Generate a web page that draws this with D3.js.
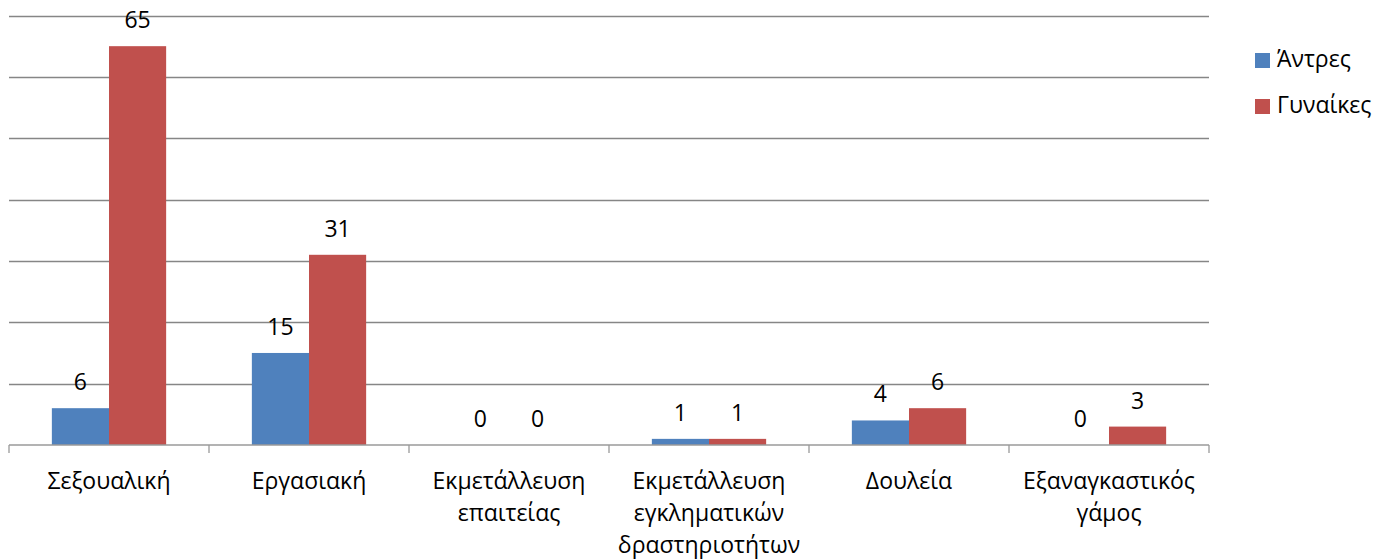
<!DOCTYPE html>
<html>
<head>
<meta charset="utf-8">
<script src="https://cdn.jsdelivr.net/npm/d3@7/dist/d3.min.js"></script>
<style>
html,body{margin:0;padding:0;background:#fff;}
svg{display:block;font-family:"Open Sans",sans-serif;}
</style>
</head>
<body>
<svg id="chart" width="1380" height="559"></svg>
<script>
const categories = [
  ["Σεξουαλική"],
  ["Εργασιακή"],
  ["Εκμετάλλευση", "επαιτείας"],
  ["Εκμετάλλευση", "εγκληματικών", "δραστηριοτήτων"],
  ["Δουλεία"],
  ["Εξαναγκαστικός", "γάμος"]
];
const seriesNames = ["Άντρες", "Γυναίκες"];
const men = [6, 15, 0, 1, 4, 0];
const women = [65, 31, 0, 1, 6, 3];
const colors = ["#4F81BD", "#C0504D"];
const yTicks = [0, 10, 20, 30, 40, 50, 60, 70];

const svg = d3.select("#chart");
const pLeft = 9, pRight = 1209, pTop = 15.5, pBottom = 445;
const fontSize = 23;

const x = d3.scaleBand().domain(d3.range(categories.length)).range([pLeft, pRight]).paddingInner(0).paddingOuter(0);
const bw = x.bandwidth();
const barW = bw / 3.5;
const y = d3.scaleLinear().domain([0, 70]).range([pBottom, pTop]);

// gridlines
svg.append("g").selectAll("line").data(yTicks.filter(d => d > 0)).join("line")
  .attr("x1", pLeft).attr("x2", pRight)
  .attr("y1", d => Math.round(y(d)) + 0.5).attr("y2", d => Math.round(y(d)) + 0.5)
  .attr("stroke", "#868686").attr("stroke-width", 1.3);

const data = [men, women];
// bars
data.forEach((vals, s) => {
  svg.append("g").selectAll("rect").data(vals).join("rect")
    .attr("x", (d, i) => x(i) + bw / 2 - barW + s * barW)
    .attr("y", d => y(d))
    .attr("width", barW)
    .attr("height", d => pBottom - y(d))
    .attr("fill", colors[s]);
});

// axis line + ticks
const xAxis = d3.axisBottom(x).tickSize(0).tickFormat("");
const ax = svg.append("g").attr("transform", `translate(0,${pBottom})`).call(xAxis);
ax.select(".domain").attr("stroke", "#9a9a9a").attr("stroke-width", 1.3).attr("d", `M${pLeft},0H${pRight}`);
svg.append("g").selectAll("line").data(d3.range(categories.length + 1)).join("line")
  .attr("x1", i => pLeft + i * bw).attr("x2", i => pLeft + i * bw)
  .attr("y1", pBottom).attr("y2", pBottom + 8)
  .attr("stroke", "#9a9a9a").attr("stroke-width", 1.3);

// value labels
data.forEach((vals, s) => {
  svg.append("g").selectAll("text").data(vals).join("text")
    .attr("x", (d, i) => x(i) + bw / 2 - barW / 2 + s * barW)
    .attr("y", d => y(d) - 18)
    .attr("text-anchor", "middle")
    .attr("font-size", fontSize)
    .attr("fill", "#000")
    .text(d => d);
});

// category labels
const cl = svg.append("g").selectAll("text").data(categories).join("text")
  .attr("text-anchor", "middle")
  .attr("font-size", fontSize)
  .attr("fill", "#000");
cl.each(function(lines, i) {
  d3.select(this).selectAll("tspan").data(lines).join("tspan")
    .attr("x", x(i) + bw / 2)
    .attr("y", (d, j) => pBottom + 44 + j * 32)
    .text(d => d);
});

// legend
const lg = svg.append("g").selectAll("g").data(seriesNames).join("g")
  .attr("transform", (d, i) => `translate(1255,${53 + i * 46})`);
lg.append("rect").attr("width", 15).attr("height", 15).attr("fill", (d, i) => colors[i]);
lg.append("text").attr("x", 22).attr("y", 14).attr("font-size", fontSize).attr("fill", "#000").text(d => d);
</script>
</body>
</html>
